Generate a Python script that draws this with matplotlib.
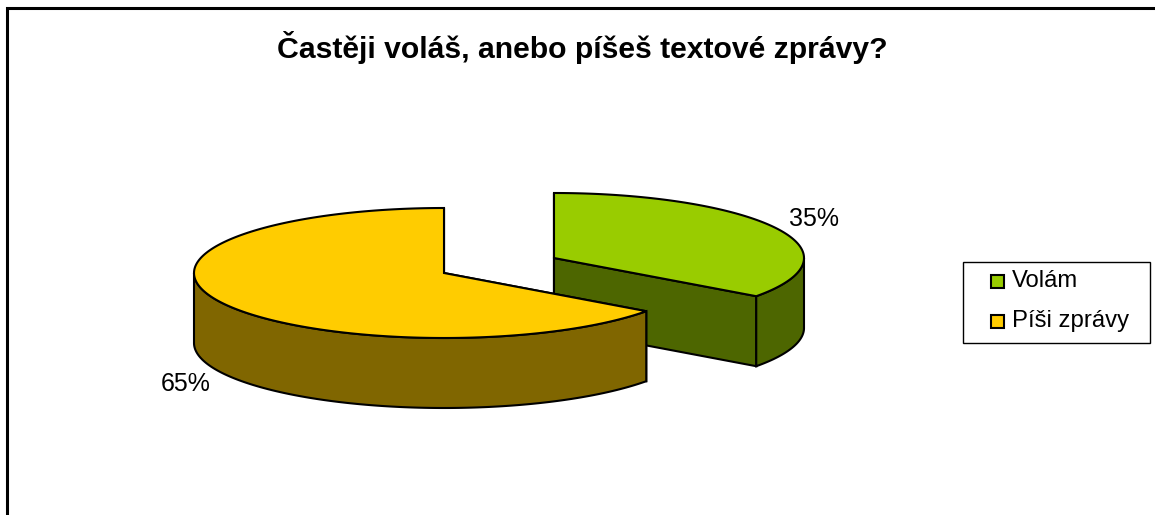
import numpy as np
import matplotlib
matplotlib.use("Agg")
import matplotlib.pyplot as plt
from matplotlib.patches import Polygon, Rectangle

title = "Častěji voláš, anebo píšeš textové zprávy?"
categories = ["Volám", "Píši zprávy"]
values = [35, 65]
labels = ["35%", "65%"]

plt.rcParams["font.family"] = ["Liberation Sans", "DejaVu Sans"]

TOP = ["#99CC00", "#FFCC00"]
SIDE = ["#4D6600", "#806600"]
CENTERS = [(554, 258), (444, 273)]
RX, RY, DEPTH = 250, 65, 70
LW = 1.5

fig = plt.figure(figsize=(11.55, 5.15), dpi=100)
ax = fig.add_axes([0, 0, 1, 1])
ax.set_xlim(0, 1155)
ax.set_ylim(515, 0)
ax.axis("off")


def rim(cx, cy, a0, a1):
    """Points on the ellipse; angles in degrees clockwise from 12 o'clock."""
    t = np.radians(np.linspace(a0, a1, 200))
    return np.column_stack([cx + RX * np.sin(t), cy - RY * np.cos(t)])


def draw_slice(i, a0, a1):
    cx, cy = CENTERS[i]
    apex = np.array([[cx, cy]])
    drop = np.array([0, DEPTH])
    outline = dict(edgecolor="black", linewidth=LW, joinstyle="miter")
    # cut faces, extruded downward
    for a in (a0, a1):
        p = rim(cx, cy, a, a)[:1]
        face = np.vstack([apex, p, p + drop, apex + drop])
        ax.add_patch(Polygon(face, facecolor=SIDE[i], **outline))
    # outer wall: only the part facing the viewer (90..270 degrees)
    v0, v1 = max(a0, 90), min(a1, 270)
    if v1 > v0:
        r = rim(cx, cy, v0, v1)
        wall = np.vstack([r, (r + drop)[::-1]])
        ax.add_patch(Polygon(wall, facecolor=SIDE[i], **outline))
    # top surface
    ax.add_patch(Polygon(np.vstack([apex, rim(cx, cy, a0, a1)]),
                         facecolor=TOP[i], **outline))


start = 0.0
angles = []
for v in values:
    angles.append((start, start + 360 * v / sum(values)))
    start += 360 * v / sum(values)

draw_slice(0, *angles[0])
draw_slice(1, *angles[1])

# chart frame (left and top only reach the picture)
ax.plot([7, 7, 1155], [515, 8, 8], color="black", lw=2.2, solid_joinstyle="miter",
        clip_on=False)

ax.text(582.5, 48, title, ha="center", va="center", fontsize=21.7, fontweight="bold",
        color="black")

ax.text(814, 219, labels[0], ha="center", va="center", fontsize=18, color="black")
ax.text(186, 384, labels[1], ha="center", va="center", fontsize=18, color="black")

# legend
ax.add_patch(Rectangle((962.5, 262), 187.5, 80.5, facecolor="white", edgecolor="black", lw=1))
for name, col, y in zip(categories, TOP, (281, 321)):
    ax.add_patch(Rectangle((990.5, y - 6.5), 13, 13, facecolor=col, edgecolor="black", lw=1.5))
    ax.text(1012, y, name, ha="left", va="center", fontsize=17.2, color="black")

fig.savefig("out.png", dpi=100)
